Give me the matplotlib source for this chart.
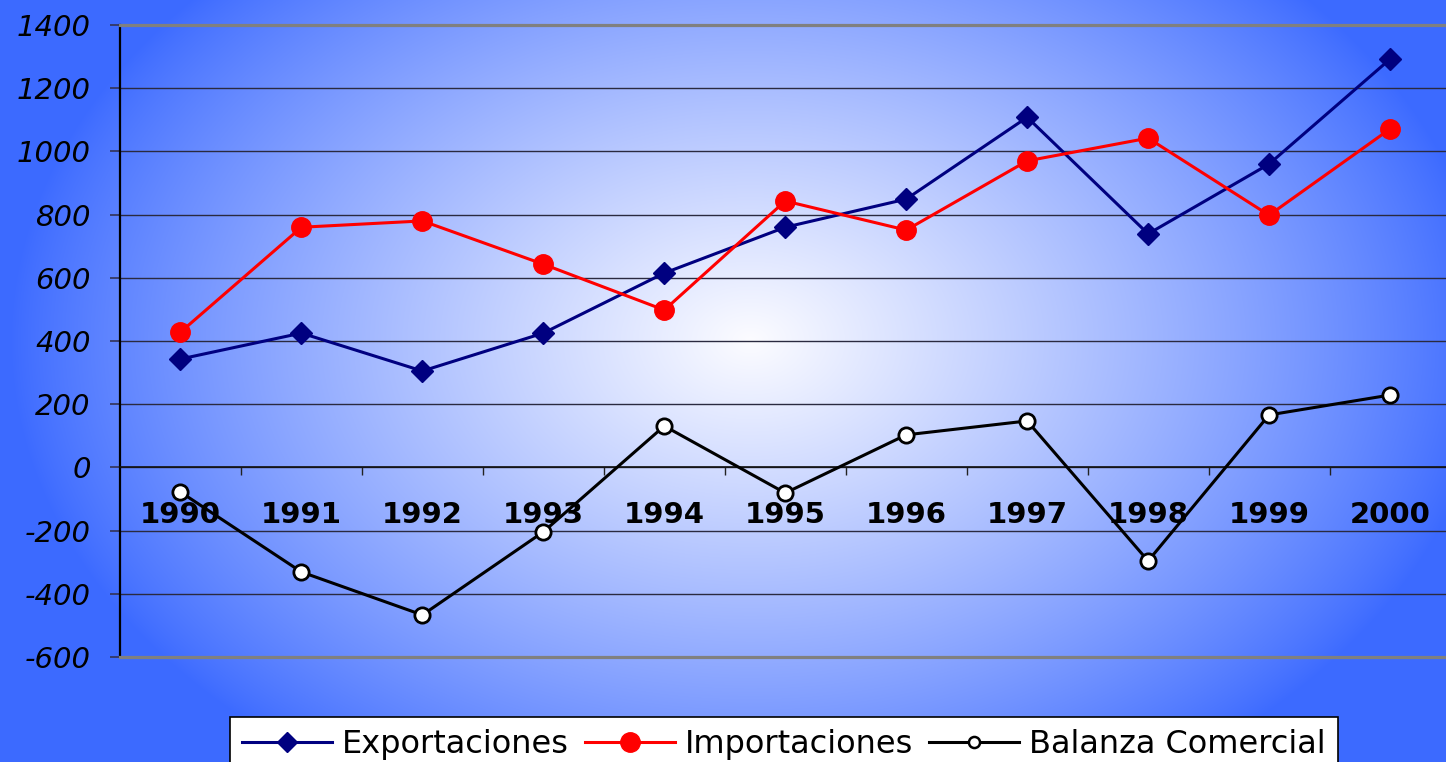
import numpy as np
import matplotlib
matplotlib.use("Agg")
import matplotlib.pyplot as plt
from matplotlib.lines import Line2D

years = ["1990", "1991", "1992", "1993", "1994", "1995", "1996", "1997", "1998", "1999", "2000"]
exportaciones = [343, 425, 305, 425, 615, 760, 849, 1108, 739, 960, 1292]
importaciones = [428, 760, 780, 643, 498, 843, 751, 970, 1042, 798, 1071]
balanza = [-78, -331, -467, -204, 131, -81, 103, 147, -296, 166, 229]
yticks = [-600, -400, -200, 0, 200, 400, 600, 800, 1000, 1200, 1400]

plt.rcParams['font.family'] = ['DejaVu Sans']

W, H = 1446, 762
fig = plt.figure(figsize=(W / 100, H / 100), dpi=100)

# background radial gradient
bg = fig.add_axes([0, 0, 1, 1], zorder=-10)
yy, xx = np.mgrid[0:H, 0:W]
cx, cy = 750, 340
t = np.sqrt(((xx - cx) / 740.0) ** 2 + ((yy - cy) / 520.0) ** 2)
t = np.clip(t, 0, 1)
edge = np.array([60, 106, 255]) / 255.0
center = np.array([252, 252, 255]) / 255.0
w = (1 - t)[..., None] ** 0.85
img = edge + (center - edge) * w
bg.imshow(img, aspect='auto', extent=[0, 1, 0, 1], origin='upper')
bg.axis('off')

ax = fig.add_axes([120 / W, 1 - 657 / H, (1450.5 - 120) / W, (657 - 25) / H])
ax.set_facecolor('none')
ax.spines['bottom'].set_position(('data', 0))
x = np.arange(len(years))

ax.plot(x, exportaciones, color='#000080', lw=2.2, marker='D', ms=11,
        mfc='#000080', mec='#000080', zorder=5, clip_on=False, label='Exportaciones')
ax.plot(x, importaciones, color='#ff0000', lw=2.2, marker='o', ms=14,
        mfc='#ff0000', mec='#ff0000', zorder=5, clip_on=False, label='Importaciones')
ax.plot(x, balanza, color='black', lw=2.2, marker='o', ms=11,
        mfc='white', mec='black', mew=2.0, zorder=6, clip_on=False, label='Balanza Comercial')

ax.set_xlim(-0.5, len(years) - 0.5)
ax.set_ylim(-600, 1400)
ax.set_yticks(yticks)
ax.set_yticklabels([str(v) for v in yticks], fontsize=21, style='italic')
ax.yaxis.grid(True, color='#2a2a40', lw=1.0)
ax.set_axisbelow(True)

ax.set_xticks(x)
ax.set_xticklabels(years, fontsize=21, fontweight='bold')
ax.set_xticks(np.arange(0.5, len(years) - 1, 1.0), minor=True)
ax.tick_params(axis='x', which='major', length=0, pad=24)
ax.tick_params(axis='x', which='minor', length=6, width=1.0, direction='out', color='#222222')
ax.tick_params(axis='y', length=7, width=1.2, direction='out', color='#333355', pad=14)

ax.spines['bottom'].set_color('#111111')
ax.spines['bottom'].set_linewidth(1.2)
ax.spines['left'].set_color('black')
ax.spines['left'].set_linewidth(1.6)
ax.spines['top'].set_color('#808080')
ax.spines['top'].set_linewidth(2.3)
ax.spines['right'].set_visible(False)
ax.plot([0, 1], [0, 0], transform=ax.transAxes, color='#808080', lw=2.3, clip_on=False, zorder=3)

handles = [
    Line2D([], [], color='#000080', lw=2.2, marker='D', ms=10, mfc='#000080', mec='#000080'),
    Line2D([], [], color='#ff0000', lw=2.2, marker='o', ms=14, mfc='#ff0000', mec='#ff0000'),
    Line2D([], [], color='black', lw=2.2, marker='o', ms=8, mfc='white', mec='black', mew=1.8),
]
leg = fig.legend(handles, ['Exportaciones', 'Importaciones', 'Balanza Comercial'],
                 loc='upper left', bbox_to_anchor=(230 / W, 1 - 717 / H), ncol=3,
                 fontsize=23, frameon=True, fancybox=False, edgecolor='black',
                 framealpha=1, facecolor='white', borderpad=0.38, borderaxespad=0,
                 handlelength=2.8, handletextpad=0.33, columnspacing=0.5)
leg.get_frame().set_linewidth(1.2)

fig.savefig('out.png', dpi=100)
